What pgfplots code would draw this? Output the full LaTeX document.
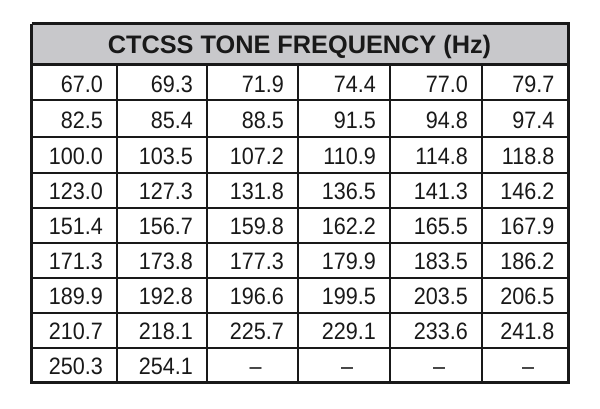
\documentclass[border=0pt]{standalone}
\usepackage{fontspec}
\setmainfont{Liberation Sans}
\usepackage{pgfplots}
\pgfplotsset{compat=1.18}
\usepackage{pgfplotstable}
\definecolor{hdr}{RGB}{200,200,203}
\definecolor{ink}{RGB}{25,25,25}
\pgfplotstableread{
x y label
103 92.3 67.0
193 92.3 69.3
284 92.3 71.9
376 92.3 74.4
468 92.3 77.0
554.5 92.3 79.7
103 128.5 82.5
193 128.5 85.4
284 128.5 88.5
376 128.5 91.5
468 128.5 94.8
554.5 128.5 97.4
103 164.5 100.0
193 164.5 103.5
284 164.5 107.2
376 164.5 110.9
468 164.5 114.8
554.5 164.5 118.8
103 199.8 123.0
193 199.8 127.3
284 199.8 131.8
376 199.8 136.5
468 199.8 141.3
554.5 199.8 146.2
103 234.8 151.4
193 234.8 156.7
284 234.8 159.8
376 234.8 162.2
468 234.8 165.5
554.5 234.8 167.9
103 269.8 171.3
193 269.8 173.8
284 269.8 177.3
376 269.8 179.9
468 269.8 183.5
554.5 269.8 186.2
103 304.8 189.9
193 304.8 192.8
284 304.8 196.6
376 304.8 199.5
468 304.8 203.5
554.5 304.8 206.5
103 339.8 210.7
193 339.8 218.1
284 339.8 225.7
376 339.8 229.1
468 339.8 233.6
554.5 339.8 241.8
103 374.0 250.3
193 374.0 254.1
}\values
\pgfplotstableread{
x y label
255.5 374.0 –
347 374.0 –
439 374.0 –
528 374.0 –
}\dashes
\begin{document}
\begin{tikzpicture}
\begin{axis}[
  scale only axis, width=600pt, height=408pt,
  xmin=0, xmax=600, ymin=0, ymax=408, y dir=reverse,
  hide axis, unbounded coords=jump,
]
\addplot[fill=white, draw=none] coordinates {(0,0)(600,0)(600,408)(0,408)(0,0)};
\addplot[fill=hdr, draw=none] coordinates {(31.5,23.5)(568.5,23.5)(568.5,64.5)(31.5,64.5)(31.5,23.5)};
% inner horizontal lines
\addplot[ink, line width=2pt] coordinates {
 (31.5,100)(568.5,100) (nan,nan)
 (31.5,136.7)(568.5,136.7) (nan,nan)
 (31.5,173.3)(568.5,173.3) (nan,nan)
 (31.5,208.3)(568.5,208.3) (nan,nan)
 (31.5,243.3)(568.5,243.3) (nan,nan)
 (31.5,278.3)(568.5,278.3) (nan,nan)
 (31.5,313.3)(568.5,313.3) (nan,nan)
 (31.5,348.3)(568.5,348.3)
};
% inner vertical lines
\addplot[ink, line width=2pt] coordinates {
 (117,64.5)(117,382.5) (nan,nan)
 (207,64.5)(207,382.5) (nan,nan)
 (298,64.5)(298,382.5) (nan,nan)
 (390,64.5)(390,382.5) (nan,nan)
 (482,64.5)(482,382.5)
};
% header bottom line
\addplot[ink, line width=2.8pt] coordinates {(31.5,64.5)(568.5,64.5)};
% outer border
\addplot[ink, line width=3.5pt, line join=miter] coordinates {(31.5,23.5)(568.5,23.5)(568.5,382.5)(31.5,382.5)(31.5,23.5)};
% values
\addplot[draw=none, point meta=explicit symbolic,
  nodes near coords,
  nodes near coords style={anchor=base east, inner sep=0pt, xscale=0.91, text=ink, font=\fontsize{23.7}{26}\selectfont}]
  table[x=x, y=y, meta=label] {\values};
\addplot[draw=none, point meta=explicit symbolic,
  nodes near coords,
  nodes near coords style={anchor=base, inner sep=0pt, xscale=0.91, text=ink, font=\fontsize{23.7}{26}\selectfont}]
  table[x=x, y=y, meta=label] {\dashes};
% title
\addplot[draw=none, point meta=explicit symbolic,
  nodes near coords,
  nodes near coords style={anchor=base, inner sep=0pt, text=ink, font=\bfseries\fontsize{25.3}{28}\selectfont}]
  coordinates {(299.5,53.3) [CTCSS TONE FREQUENCY (Hz)]};
\end{axis}
\end{tikzpicture}
\end{document}
